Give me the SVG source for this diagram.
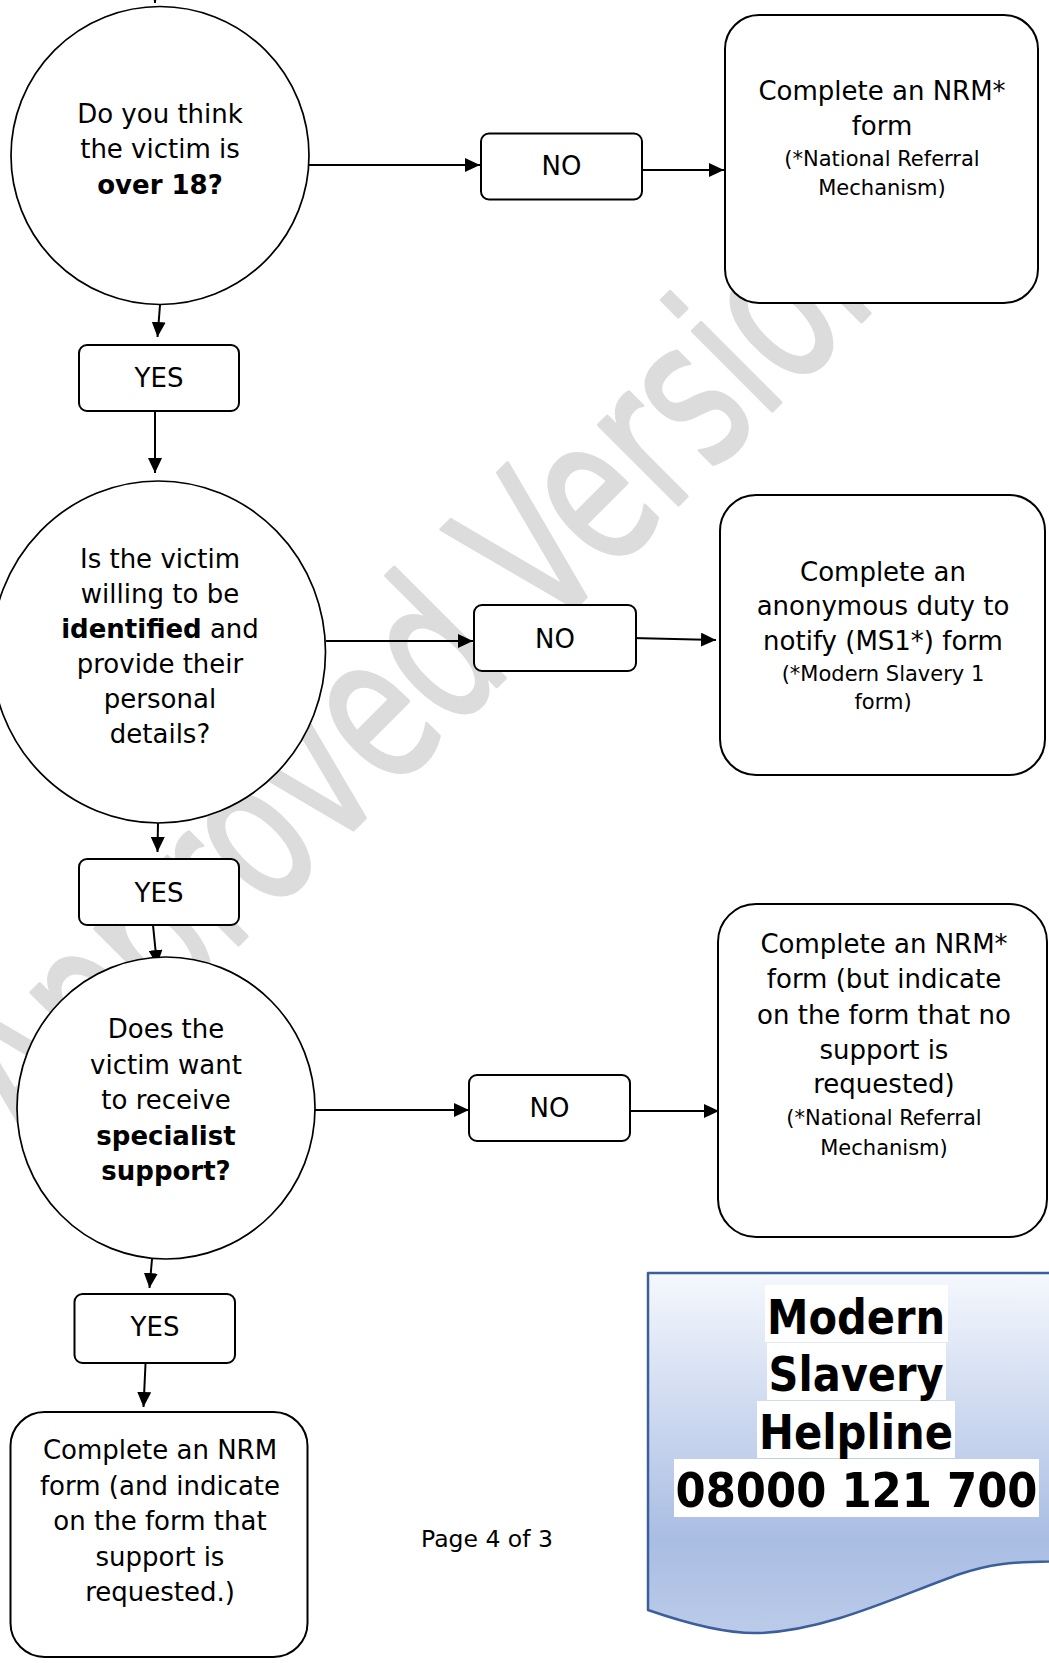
<svg xmlns="http://www.w3.org/2000/svg" width="1049" height="1663" viewBox="0 0 1049 1663">
  <style>
    .t { font-family: "DejaVu Sans", Verdana, sans-serif; font-size: 26px; text-anchor: middle; fill: #000; }
    .s { font-size: 21px; }
    .b { font-weight: bold; }
    .pg { font-family: "DejaVu Sans", Verdana, sans-serif; font-size: 23.5px; text-anchor: middle; fill: #000; }
    .h { font-family: "DejaVu Sans Condensed", "DejaVu Sans", sans-serif; font-weight: bold; font-size: 48px; text-anchor: middle; fill: #000; }
    .node { fill: #fff; stroke: #000; stroke-width: 2; }
    .circ { fill: #fff; stroke: #000; stroke-width: 1.7; }
    .conn line { stroke: #000; stroke-width: 2; marker-end: url(#ah); }
    .wm { font-family: "DejaVu Sans", sans-serif; font-size: 142px; fill: #dcdcdc; stroke: #dcdcdc; stroke-width: 2.5; stroke-linejoin: round; }
  </style>
  <defs>
    <marker id="ah" markerUnits="userSpaceOnUse" viewBox="0 0 15 14" markerWidth="15" markerHeight="14" refX="15" refY="7" orient="auto">
      <path d="M0,0 L15,7 L0,14 Z" fill="#000"/>
    </marker>
    <linearGradient id="hg" gradientUnits="userSpaceOnUse" x1="0" y1="1273" x2="0" y2="1634">
      <stop offset="0" stop-color="#f5f8fd"/>
      <stop offset="0.74" stop-color="#a9bde3"/>
      <stop offset="1" stop-color="#bccbe9"/>
    </linearGradient>
  </defs>

  <rect width="1049" height="1663" fill="#fff"/>

  <!-- watermark -->
  <g id="watermark" transform="translate(583,600) rotate(-45) scale(1,1.45)">
    <text class="wm" x="-778" y="0">Approved Version</text>
  </g>

  <!-- connectors -->
  <g id="connectors" class="conn">
    <line x1="155" y1="-20" x2="155" y2="3"/>
    <line x1="309" y1="165" x2="480" y2="165"/>
    <line x1="642" y1="170" x2="724" y2="170"/>
    <line x1="160" y1="305" x2="157.5" y2="337"/>
    <line x1="155" y1="411" x2="155" y2="473"/>
    <line x1="326" y1="641" x2="473" y2="641"/>
    <line x1="632" y1="638" x2="716" y2="640"/>
    <line x1="158" y1="823" x2="157.5" y2="852"/>
    <line x1="153" y1="925" x2="157" y2="965"/>
    <line x1="301" y1="1110" x2="469" y2="1110"/>
    <line x1="630" y1="1111" x2="719" y2="1111"/>
    <line x1="152" y1="1259" x2="149.5" y2="1288"/>
    <line x1="145.5" y1="1364" x2="143.5" y2="1407"/>
  </g>

  <!-- Decision 1 -->
  <g id="q-over18">
    <circle class="circ" cx="160" cy="155.5" r="149"/>
    <text class="t" x="160" y="123">Do you think</text>
    <text class="t" x="160" y="158">the victim is</text>
    <text class="t b" x="160" y="194">over 18?</text>
  </g>

  <g id="no1">
    <rect class="node" x="481" y="133.5" width="161" height="66" rx="8"/>
    <text class="t" x="561.5" y="175">NO</text>
  </g>

  <g id="nrm-form">
    <rect class="node" x="725" y="15" width="313" height="288" rx="34"/>
    <text class="t" x="882" y="100">Complete an NRM*</text>
    <text class="t" x="882" y="135">form</text>
    <text class="t s" x="882" y="166">(*National Referral</text>
    <text class="t s" x="882" y="195">Mechanism)</text>
  </g>

  <g id="yes1">
    <rect class="node" x="79" y="345" width="160" height="66" rx="8"/>
    <text class="t" x="159" y="387">YES</text>
  </g>

  <!-- Decision 2 -->
  <g id="q-identified">
    <ellipse class="circ" cx="158.5" cy="652" rx="167" ry="171"/>
    <text class="t" x="160" y="568">Is the victim</text>
    <text class="t" x="160" y="603">willing to be</text>
    <text class="t" x="160" y="638"><tspan class="b">identified</tspan> and</text>
    <text class="t" x="160" y="673">provide their</text>
    <text class="t" x="160" y="708">personal</text>
    <text class="t" x="160" y="743">details?</text>
  </g>

  <g id="no2">
    <rect class="node" x="474" y="605" width="162" height="66" rx="8"/>
    <text class="t" x="555" y="648">NO</text>
  </g>

  <g id="ms1-form">
    <rect class="node" x="720" y="495" width="325" height="280" rx="36"/>
    <text class="t" x="883" y="581">Complete an</text>
    <text class="t" x="883" y="615">anonymous duty to</text>
    <text class="t" x="883" y="650">notify (MS1*) form</text>
    <text class="t s" x="883" y="681">(*Modern Slavery 1</text>
    <text class="t s" x="883" y="709">form)</text>
  </g>

  <g id="yes2">
    <rect class="node" x="79" y="859" width="160" height="66" rx="8"/>
    <text class="t" x="159" y="902">YES</text>
  </g>

  <!-- Decision 3 -->
  <g id="q-support">
    <ellipse class="circ" cx="166" cy="1108" rx="149" ry="151"/>
    <text class="t" x="166" y="1038">Does the</text>
    <text class="t" x="166" y="1073.5">victim want</text>
    <text class="t" x="166" y="1109">to receive</text>
    <text class="t b" x="166" y="1144.5">specialist</text>
    <text class="t b" x="166" y="1180">support?</text>
  </g>

  <g id="no3">
    <rect class="node" x="469" y="1075" width="161" height="66" rx="8"/>
    <text class="t" x="549.5" y="1117">NO</text>
  </g>

  <g id="nrm-no-support">
    <rect class="node" x="718" y="904" width="329" height="333" rx="38"/>
    <text class="t" x="884" y="953">Complete an NRM*</text>
    <text class="t" x="884" y="988">form (but indicate</text>
    <text class="t" x="884" y="1024">on the form that no</text>
    <text class="t" x="884" y="1059">support is</text>
    <text class="t" x="884" y="1093">requested)</text>
    <text class="t s" x="884" y="1125">(*National Referral</text>
    <text class="t s" x="884" y="1155">Mechanism)</text>
  </g>

  <g id="yes3">
    <rect class="node" x="74.5" y="1294" width="160.5" height="69" rx="8"/>
    <text class="t" x="155" y="1336">YES</text>
  </g>

  <g id="nrm-support">
    <rect class="node" x="10.5" y="1412" width="297" height="245" rx="34"/>
    <text class="t" x="160" y="1459">Complete an NRM</text>
    <text class="t" x="160" y="1495">form (and indicate</text>
    <text class="t" x="160" y="1530">on the form that</text>
    <text class="t" x="160" y="1566">support is</text>
    <text class="t" x="160" y="1601">requested.)</text>
  </g>

  <g id="page-number">
    <text class="pg" x="487" y="1547">Page 4 of 3</text>
  </g>

  <!-- Helpline -->
  <g id="helpline">
    <path d="M648,1610 L648,1273 L1060,1273 L1060,1561 L1049,1561.5 C1010,1562 990,1564 960,1574 C900,1595 830,1630 760,1633 C735,1634 700,1628 648,1610 Z" fill="url(#hg)" stroke="#3a5f9b" stroke-width="2.5" stroke-linejoin="round"/>
    <rect x="765" y="1285" width="183" height="57" fill="#fff"/>
    <rect x="767" y="1343" width="179" height="57" fill="#fff"/>
    <rect x="757" y="1401" width="198" height="57" fill="#fff"/>
    <rect x="674" y="1459" width="365" height="58" fill="#fff"/>
    <text class="h" x="856" y="1334" textLength="178" lengthAdjust="spacingAndGlyphs">Modern</text>
    <text class="h" x="856" y="1391" textLength="175" lengthAdjust="spacingAndGlyphs">Slavery</text>
    <text class="h" x="856" y="1449" textLength="194" lengthAdjust="spacingAndGlyphs">Helpline</text>
    <text class="h" x="856.5" y="1507" textLength="362" lengthAdjust="spacingAndGlyphs">08000 121 700</text>
  </g>
</svg>
